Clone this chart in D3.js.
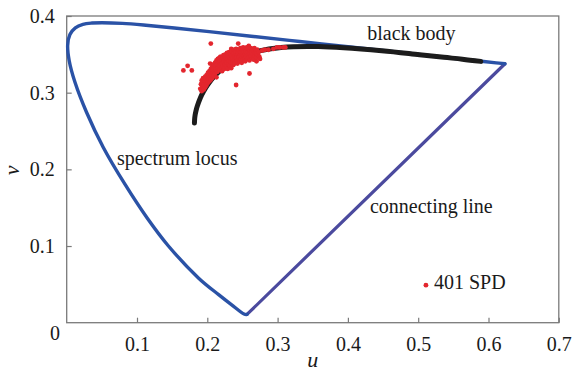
<!DOCTYPE html>
<html><head><meta charset="utf-8">
<script src="https://cdn.jsdelivr.net/npm/d3@7"></script>
<style>
html,body{margin:0;padding:0;background:#fff;}
</style></head>
<body><svg id="c" width="574" height="377"></svg>
<script>
// Spectrum locus (CIE 1960 u,v), 380 nm -> 700 nm
const locusU = [0.2568,0.2557,0.2522,0.2347,0.2161,0.1877,0.1441,0.1147,0.0828,0.0521,0.0282,0.0119,0.0035,0.0014,0.0046,0.0123,0.0231,0.0360,0.0501,0.0792,0.1127,0.1531,0.2026,0.2623,0.3315,0.4035,0.4692,0.5203,0.5565,0.5830,0.6109,0.6234];
const locusV = [0.0111,0.0106,0.0113,0.0233,0.0366,0.0581,0.1007,0.1362,0.1806,0.2285,0.2745,0.3132,0.3420,0.3621,0.3759,0.3846,0.3891,0.3908,0.3912,0.3904,0.3880,0.3844,0.3796,0.3736,0.3667,0.3596,0.3530,0.3479,0.3443,0.3417,0.3389,0.3377];
// Black body (Planckian) locus
const bbU = [0.1817,0.1821,0.1827,0.1840,0.1857,0.1902,0.1946,0.2005,0.2115,0.2252,0.2505,0.2721,0.3050,0.3580,0.4481,0.5019,0.5365,0.5628,0.5890];
const bbV = [0.2604,0.2668,0.2711,0.2766,0.2822,0.2934,0.3015,0.3103,0.3230,0.3343,0.3477,0.3542,0.3590,0.3602,0.3547,0.3495,0.3461,0.3437,0.3408];
// 401 SPD chromaticity points
const spdU = [0.166,0.172,0.178,0.205,0.244,0.259,0.234,0.218,0.204,0.241,0.260,0.270,0.287,0.294,0.299,0.303,0.308,0.311,0.282,0.278,
0.190,0.191,0.192,0.192,0.193,0.194,0.194,0.195,0.195,0.196,0.197,0.197,0.198,0.198,
0.199,0.199,0.200,0.200,0.201,0.201,0.202,0.202,0.203,0.203,0.204,0.204,0.205,0.205,0.206,0.206,0.207,0.207,
0.208,0.208,0.209,0.209,0.210,0.210,0.211,0.211,0.212,0.212,0.213,0.213,0.214,0.214,0.215,0.215,0.216,0.216,
0.217,0.217,0.218,0.218,0.219,0.219,0.220,0.220,0.221,0.221,0.222,0.222,0.223,0.223,0.224,0.224,0.225,0.225,
0.226,0.226,0.227,0.227,0.228,0.228,0.229,0.229,0.230,0.230,0.231,0.231,0.232,0.232,0.233,0.233,0.234,0.234,
0.235,0.235,0.236,0.236,0.237,0.237,0.238,0.238,0.239,0.239,0.240,0.240,0.241,0.241,0.242,0.242,0.243,0.243,
0.244,0.244,0.245,0.245,0.246,0.246,0.247,0.247,0.248,0.248,0.249,0.249,0.250,0.250,0.251,0.251,0.252,0.252,
0.253,0.253,0.254,0.254,0.255,0.255,0.256,0.256,0.257,0.257,0.258,0.258,0.259,0.259,0.260,0.260,0.261,0.262,
0.262,0.263,0.264,0.264,0.265,0.266,0.266,0.267,0.268,0.268,0.269,0.270,0.270,0.271,0.272,0.273,0.274,0.275];
const spdV = [0.329,0.335,0.329,0.364,0.364,0.361,0.357,0.346,0.338,0.310,0.325,0.341,0.356,0.357,0.359,0.359,0.359,0.359,0.356,0.355,
0.305,0.311,0.302,0.316,0.308,0.313,0.319,0.304,0.310,0.316,0.307,0.321,0.313,0.318,
0.310,0.323,0.316,0.320,0.313,0.326,0.318,0.322,0.315,0.328,0.320,0.325,0.317,0.331,0.323,0.328,0.319,0.334,
0.326,0.330,0.322,0.337,0.328,0.333,0.325,0.339,0.330,0.335,0.320,0.342,0.327,0.337,0.332,0.344,0.329,0.340,
0.335,0.345,0.330,0.341,0.337,0.347,0.333,0.343,0.338,0.328,0.345,0.335,0.340,0.349,0.331,0.344,0.337,0.347,
0.341,0.350,0.334,0.345,0.339,0.352,0.343,0.331,0.348,0.337,0.342,0.353,0.346,0.335,0.350,0.340,0.344,0.332,
0.348,0.354,0.339,0.345,0.351,0.336,0.342,0.356,0.347,0.338,0.352,0.344,0.349,0.357,0.341,0.346,0.353,0.338,
0.350,0.344,0.356,0.347,0.341,0.353,0.349,0.358,0.344,0.352,0.347,0.339,0.355,0.350,0.343,0.359,0.348,0.353,
0.345,0.357,0.350,0.341,0.354,0.347,0.359,0.352,0.344,0.356,0.349,0.353,0.346,0.357,0.351,0.342,0.355,0.348,
0.358,0.352,0.345,0.356,0.350,0.354,0.343,0.358,0.348,0.352,0.355,0.346,0.351,0.356,0.349,0.353,0.347,0.344];
const xTicks = [0.1,0.2,0.3,0.4,0.5,0.6,0.7];
const yTicks = [0.1,0.2,0.3,0.4];
const labels = [
  {text:"black body", u:0.4275, v:0.3684},
  {text:"spectrum locus", u:0.0715, v:0.2057},
  {text:"connecting line", u:0.4314, v:0.1431},
  {text:"401 SPD", u:0.5224, v:0.0440}
];

const FONT = '"Liberation Serif", "Times New Roman", serif';
const svg = d3.select("#c");
const L=66.7, R=558.8, T=16, B=322.7;
const x = d3.scaleLinear().domain([0,0.7]).range([L,R]);
const y = d3.scaleLinear().domain([0,0.4]).range([B,T]);

// frame
svg.append("rect").attr("x",L).attr("y",T).attr("width",R-L).attr("height",B-T)
  .attr("fill","none").attr("stroke","#7a7a7a").attr("stroke-width",1.3);

const xa = svg.append("g").attr("transform",`translate(0,${B})`)
  .call(d3.axisBottom(x).tickValues(xTicks).tickSize(-5).tickPadding(14).tickFormat(d3.format(".1f")));
const ya = svg.append("g").attr("transform",`translate(${L},0)`)
  .call(d3.axisLeft(y).tickValues(yTicks).tickSize(-5).tickPadding(12).tickFormat(d3.format(".1f")));
[xa,ya].forEach(g=>{
  g.attr("font-family",null).attr("font-size",null);
  g.select(".domain").remove();
  g.selectAll(".tick line").attr("stroke","#7a7a7a").attr("stroke-width",1.2);
  g.selectAll(".tick text").style("font-family",FONT).style("font-size","20px").attr("fill","#1a1a1a");
});
svg.append("text").attr("x",60).attr("y",340).attr("text-anchor","end")
  .style("font-family",FONT).style("font-size","20px").attr("fill","#1a1a1a").text("0");

svg.append("text").attr("x",x(0.35)).attr("y",367).attr("text-anchor","middle")
  .style("font-family",FONT).style("font-size","22px").style("font-style","italic").attr("fill","#1a1a1a").text("u");
svg.append("text").attr("transform",`translate(19,${y(0.2)+1}) rotate(-90)`).attr("text-anchor","middle")
  .style("font-family",FONT).style("font-size","22px").style("font-style","italic").attr("fill","#1a1a1a").text("v");

const idx = d3.range(locusU.length);
const line = d3.line().x(i=>x(locusU[i])).y(i=>y(locusV[i])).curve(d3.curveCatmullRom);
// connecting line
const last = locusU.length-1;
svg.append("path").attr("d",d3.line()([[x(locusU[last]),y(locusV[last])],[x(locusU[0]),y(locusV[0])]]))
  .attr("fill","none").attr("stroke","#4b4a9e").attr("stroke-width",3.2).attr("stroke-linecap","round");
svg.append("path").attr("d",line(idx)).attr("fill","none").attr("stroke","#2a52a6")
  .attr("stroke-width",3.4).attr("stroke-linejoin","round").attr("stroke-linecap","round");

const bbIdx = d3.range(bbU.length);
svg.append("path").attr("d",d3.line().x(i=>x(bbU[i])).y(i=>y(bbV[i])).curve(d3.curveCatmullRom)(bbIdx))
  .attr("fill","none").attr("stroke","#1c1c1c").attr("stroke-width",5).attr("stroke-linecap","round");

svg.append("g").selectAll("circle").data(d3.range(spdU.length)).join("circle")
  .attr("cx",i=>x(spdU[i])).attr("cy",i=>y(spdV[i])).attr("r",2.4).attr("fill","#e3262e");

// legend marker
svg.append("circle").attr("cx",x(0.511)).attr("cy",y(0.0490)).attr("r",2.4).attr("fill","#e3262e");

svg.selectAll(".lbl").data(labels).join("text").attr("class","lbl")
  .attr("x",d=>x(d.u)).attr("y",d=>y(d.v)).style("font-family",FONT).style("font-size","20px")
  .attr("fill","#1a1a1a").text(d=>d.text);
</script></body></html>
